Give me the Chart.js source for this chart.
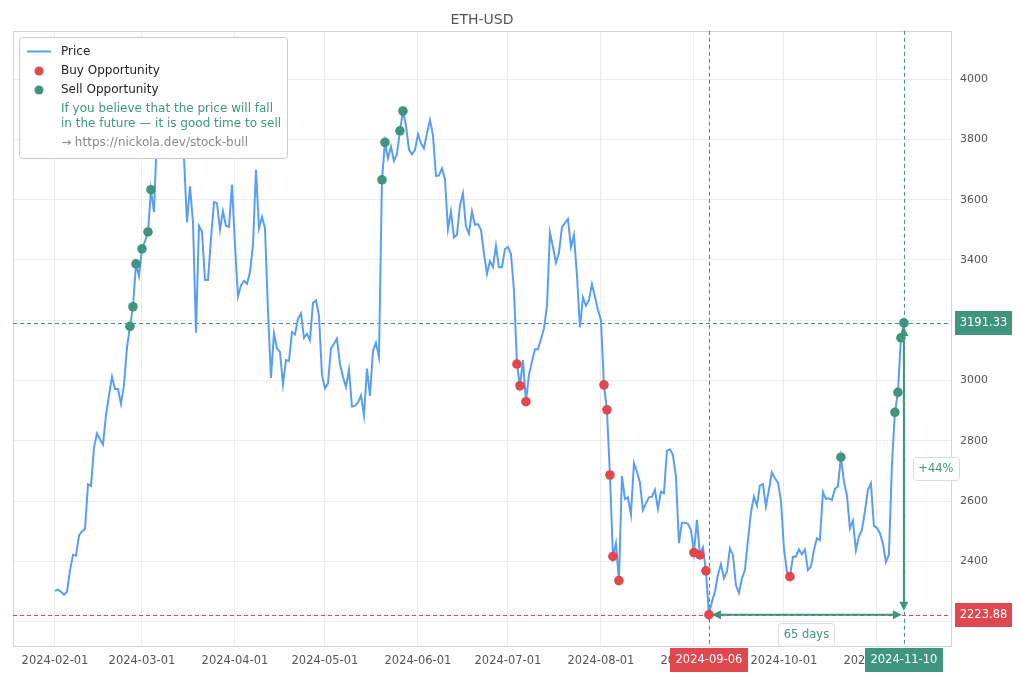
<!DOCTYPE html>
<html>
<head>
<meta charset="utf-8">
<script src="https://cdn.jsdelivr.net/npm/chart.js@4"></script>
<style>
  html, body { margin: 0; padding: 0; background: #fff; }
  #wrap { width: 1020px; height: 680px; }
</style>
</head>
<body>
<div id="wrap"><canvas id="chart" width="1020" height="680"></canvas></div>
<script>
// daily closes, day 0 = 2024-02-01
const priceValues = [
  2303, 2307, 2300, 2290, 2300, 2371, 2422, 2420, 2487, 2500,
  2508, 2656, 2651, 2778, 2825, 2805, 2788, 2886, 2950, 3013,
  2972, 2972, 2923, 2985, 3110, 3180, 3245, 3387, 3347, 3437,
  3462, 3493, 3633, 3559, 3820, 3870, 3890, 3920, 3880, 4065,
  3980, 4000, 3880, 3740, 3525, 3644, 3525, 3159, 3513, 3494,
  3334, 3334, 3470, 3592, 3589, 3500, 3562, 3513, 3510, 3650,
  3450, 3279, 3316, 3331, 3321, 3359, 3451, 3699, 3506, 3543,
  3506, 3230, 3009, 3157, 3107, 3095, 2988, 3068, 3065, 3161,
  3153, 3205, 3223, 3142, 3155, 3134, 3258, 3266, 3216, 3018,
  2974, 2991, 3106, 3122, 3139, 3054, 3013, 2979, 3037, 2914,
  2916, 2927, 2951, 2885, 3040, 2949, 3098, 3126, 3078, 3666,
  3790, 3737, 3776, 3728, 3752, 3828, 3894, 3847, 3767, 3750,
  3765, 3817, 3787, 3770, 3820, 3864, 3814, 3679, 3680, 3704,
  3668, 3502, 3561, 3475, 3484, 3580, 3621, 3511, 3487, 3561,
  3517, 3519, 3500, 3423, 3354, 3396, 3376, 3447, 3376, 3376,
  3436, 3443, 3420, 3300, 3055, 2983, 3068, 2930, 3019, 3063,
  3104, 3104, 3137, 3173, 3245, 3491, 3444, 3391, 3424, 3508,
  3522, 3536, 3442, 3483, 3350, 3177, 3276, 3249, 3267, 3320,
  3278, 3234, 3201, 2986, 2903, 2687, 2417, 2461, 2337, 2684,
  2607, 2613, 2555, 2726, 2698, 2662, 2571, 2593, 2613, 2615,
  2638, 2575, 2632, 2626, 2768, 2772, 2754, 2682, 2461, 2529,
  2529, 2525, 2505, 2430, 2538, 2422, 2447, 2369, 2223.88, 2267,
  2300, 2356, 2391, 2345, 2367, 2444, 2422, 2322, 2296, 2344,
  2372, 2471, 2562, 2616, 2586, 2652, 2657, 2582, 2638, 2696,
  2676, 2662, 2604, 2444, 2366, 2350, 2416, 2416, 2440, 2424,
  2440, 2372, 2383, 2438, 2477, 2471, 2630, 2608, 2610, 2604,
  2641, 2649, 2746, 2665, 2621, 2510, 2536, 2438, 2483, 2505,
  2566, 2638, 2660, 2518, 2512, 2494, 2460, 2399, 2422, 2720,
  2895, 2961, 3142, 3191.33
];

const buyDays = [154, 155, 157, 183, 184, 185, 186, 188, 213, 215, 217, 218, 245];
const sellDays = [25, 26, 27, 29, 31, 32, 109, 110, 115, 116, 262, 280, 281, 282, 283];

const monthTickDays = [0, 29, 60, 90, 121, 151, 182, 213, 243, 274];
const monthTickLabels = ['2024-02-01', '2024-03-01', '2024-04-01', '2024-05-01', '2024-06-01',
  '2024-07-01', '2024-08-01', '2024-09-01', '2024-10-01', '2024-11-01'];
const yTickValues = [2200, 2400, 2600, 2800, 3000, 3200, 3400, 3600, 3800, 4000];

const buyPoint = { day: 218, date: '2024-09-06', price: 2223.88 };
const sellPoint = { day: 283, date: '2024-11-10', price: 3191.33 };

const BLUE = '#5a9ef2';
const RED = '#e0474e';
const GREEN = '#3f967c';
const FONT = '"DejaVu Sans", sans-serif';

function boxPath(ctx, x, y, w, h, r) {
  ctx.beginPath();
  ctx.moveTo(x + r, y);
  ctx.lineTo(x + w - r, y);
  ctx.arcTo(x + w, y, x + w, y + r, r);
  ctx.lineTo(x + w, y + h - r);
  ctx.arcTo(x + w, y + h, x + w - r, y + h, r);
  ctx.lineTo(x + r, y + h);
  ctx.arcTo(x, y + h, x, y + h - r, r);
  ctx.lineTo(x, y + r);
  ctx.arcTo(x, y, x + r, y, r);
  ctx.closePath();
}

function tagBox(ctx, cx, cy, w, h, bg, text, size) {
  ctx.fillStyle = bg;
  ctx.fillRect(Math.round(cx - w / 2), Math.round(cy - h / 2), w, h);
  ctx.fillStyle = '#fff';
  ctx.font = size + 'px ' + FONT;
  ctx.textAlign = 'center';
  ctx.textBaseline = 'middle';
  ctx.fillText(text, cx, cy + 0.5);
}

function noteBox(ctx, cx, cy, w, h, text) {
  boxPath(ctx, Math.round(cx - w / 2) + 0.5, Math.round(cy - h / 2) + 0.5, w, h, 3);
  ctx.fillStyle = '#fff';
  ctx.fill();
  ctx.strokeStyle = '#dcdcdc';
  ctx.lineWidth = 1;
  ctx.stroke();
  ctx.fillStyle = GREEN;
  ctx.font = '11.5px ' + FONT;
  ctx.textAlign = 'center';
  ctx.textBaseline = 'middle';
  ctx.fillText(text, cx, cy + 0.5);
}

function arrowHead(ctx, x, y, dir) {
  // tip at (x,y)
  const L = 9, W = 4.5;
  ctx.beginPath();
  ctx.moveTo(x, y);
  if (dir === 'up') { ctx.lineTo(x - W, y + L); ctx.lineTo(x + W, y + L); }
  if (dir === 'down') { ctx.lineTo(x - W, y - L); ctx.lineTo(x + W, y - L); }
  if (dir === 'left') { ctx.lineTo(x + L, y - W); ctx.lineTo(x + L, y + W); }
  if (dir === 'right') { ctx.lineTo(x - L, y - W); ctx.lineTo(x - L, y + W); }
  ctx.closePath();
  ctx.fill();
}

const overlay = {
  id: 'overlay',
  beforeDatasetsDraw(chart) {
    const { ctx, chartArea: a, scales: { x, y } } = chart;
    ctx.save();
    ctx.strokeStyle = '#d4d4d4';
    ctx.lineWidth = 1;
    ctx.strokeRect(Math.round(a.left) + 0.5, Math.round(a.top) + 0.5,
      Math.round(a.right - a.left), Math.round(a.bottom - a.top));

    ctx.setLineDash([4, 3]);
    const ySell = Math.round(y.getPixelForValue(sellPoint.price)) + 0.5;
    const yBuy = Math.round(y.getPixelForValue(buyPoint.price)) + 0.5;
    const xBuy = Math.round(x.getPixelForValue(buyPoint.day)) + 0.5;
    const xSell = Math.round(x.getPixelForValue(sellPoint.day)) + 0.5;
    ctx.strokeStyle = GREEN;
    ctx.beginPath(); ctx.moveTo(a.left, ySell); ctx.lineTo(a.right, ySell); ctx.stroke();
    ctx.beginPath(); ctx.moveTo(xSell, a.top); ctx.lineTo(xSell, a.bottom); ctx.stroke();
    ctx.strokeStyle = RED;
    ctx.beginPath(); ctx.moveTo(a.left, yBuy); ctx.lineTo(a.right, yBuy); ctx.stroke();
    ctx.beginPath(); ctx.moveTo(xBuy, a.top); ctx.lineTo(xBuy, a.bottom); ctx.stroke();
    ctx.restore();
  },
  afterDatasetsDraw(chart) {
    const { ctx, chartArea: a, scales: { x, y } } = chart;
    const ySell = y.getPixelForValue(sellPoint.price);
    const yBuy = y.getPixelForValue(buyPoint.price);
    const xBuy = x.getPixelForValue(buyPoint.day);
    const xSell = x.getPixelForValue(sellPoint.day);
    ctx.save();
    ctx.strokeStyle = GREEN;
    ctx.fillStyle = GREEN;
    ctx.lineWidth = 2;
    // vertical arrow
    ctx.beginPath(); ctx.moveTo(xSell, ySell + 6); ctx.lineTo(xSell, yBuy - 6); ctx.stroke();
    arrowHead(ctx, xSell, ySell + 4, 'up');
    arrowHead(ctx, xSell, yBuy - 4, 'down');
    // horizontal arrow
    ctx.beginPath(); ctx.moveTo(xBuy + 6, yBuy); ctx.lineTo(xSell - 6, yBuy); ctx.stroke();
    arrowHead(ctx, xBuy + 3, yBuy, 'left');
    arrowHead(ctx, xSell - 2, yBuy, 'right');

    const pct = Math.round((sellPoint.price - buyPoint.price) / buyPoint.price * 100);
    noteBox(ctx, xSell + 32, (ySell + yBuy) / 2, 46, 23, '+' + pct + '%');
    noteBox(ctx, (xBuy + xSell) / 2, yBuy + 20, 56, 23, (sellPoint.day - buyPoint.day) + ' days');

    // axis tags
    tagBox(ctx, a.right + 4 + 28.5, ySell, 57, 24, GREEN, sellPoint.price.toFixed(2), 11.5);
    tagBox(ctx, a.right + 4 + 28.5, yBuy, 57, 24, RED, buyPoint.price.toFixed(2), 11.5);
    tagBox(ctx, xBuy, a.bottom + 14, 78, 24, RED, buyPoint.date, 11.5);
    tagBox(ctx, xSell, a.bottom + 14, 78, 24, GREEN, sellPoint.date, 11.5);
    ctx.restore();
  },
  afterDraw(chart) {
    const ctx = chart.ctx;
    ctx.save();
    boxPath(ctx, 19.5, 37.5, 268, 121, 3);
    ctx.fillStyle = '#ffffff';
    ctx.fill();
    ctx.strokeStyle = '#cccccc';
    ctx.lineWidth = 1;
    ctx.stroke();

    ctx.strokeStyle = BLUE;
    ctx.lineWidth = 2;
    ctx.beginPath(); ctx.moveTo(27, 51.5); ctx.lineTo(51, 51.5); ctx.stroke();
    ctx.fillStyle = RED;
    ctx.beginPath(); ctx.arc(39, 71, 4.5, 0, Math.PI * 2); ctx.fill();
    ctx.fillStyle = GREEN;
    ctx.beginPath(); ctx.arc(39, 90, 4.5, 0, Math.PI * 2); ctx.fill();

    ctx.font = '12px ' + FONT;
    ctx.textAlign = 'left';
    ctx.textBaseline = 'middle';
    ctx.fillStyle = '#222';
    ctx.fillText('Price', 61, 52);
    ctx.fillText('Buy Opportunity', 61, 70.5);
    ctx.fillText('Sell Opportunity', 61, 89.5);
    ctx.fillStyle = GREEN;
    ctx.fillText('If you believe that the price will fall', 61, 108.5);
    ctx.fillText('in the future \u2014 it is good time to sell', 61, 123.5);
    ctx.fillStyle = '#888';
    ctx.fillText('\u2192 https://nickola.dev/stock-bull', 61, 142.5);
    ctx.restore();
  }
};

const pricePoints = priceValues.map((v, i) => ({ x: i, y: v }));
const buyPoints = buyDays.map(d => ({ x: d, y: priceValues[d] }));
const sellPoints = sellDays.map(d => ({ x: d, y: priceValues[d] }));

new Chart(document.getElementById('chart'), {
  type: 'line',
  data: {
    datasets: [
      {
        label: 'Price',
        data: pricePoints,
        borderColor: BLUE,
        borderWidth: 2,
        pointRadius: 0,
        tension: 0,
        order: 2
      },
      {
        label: 'Buy Opportunity',
        data: buyPoints,
        showLine: false,
        pointRadius: 4.8,
        pointBackgroundColor: RED,
        pointBorderWidth: 0,
        order: 1
      },
      {
        label: 'Sell Opportunity',
        data: sellPoints,
        showLine: false,
        pointRadius: 4.8,
        pointBackgroundColor: GREEN,
        pointBorderWidth: 0,
        order: 1
      }
    ]
  },
  options: {
    responsive: false,
    animation: false,
    layout: { padding: { left: 13, right: 0, top: 4, bottom: 0 } },
    plugins: {
      legend: { display: false },
      tooltip: { enabled: false },
      title: {
        display: true,
        fullSize: false,
        text: 'ETH-USD',
        color: '#555',
        font: { family: FONT, size: 14, weight: 'normal' },
        padding: { top: 8, bottom: 2 }
      }
    },
    scales: {
      x: {
        type: 'linear',
        min: -14,
        max: 298.7,
        afterBuildTicks: s => { s.ticks = monthTickDays.map(v => ({ value: v })); },
        afterFit: s => { s.height = 34; },
        grid: { color: '#ececec', drawTicks: false },
        border: { display: false },
        ticks: {
          color: '#555',
          padding: 8,
          maxRotation: 0,
          autoSkip: false,
          font: { family: FONT, size: 11.5 },
          callback: v => monthTickLabels[monthTickDays.indexOf(v)]
        }
      },
      y: {
        position: 'right',
        min: 2120,
        max: 4160,
        afterBuildTicks: s => { s.ticks = yTickValues.map(v => ({ value: v })); },
        afterFit: s => { s.width = 69; },
        grid: { color: '#ececec', drawTicks: false },
        border: { display: false },
        ticks: {
          color: '#555',
          padding: 9,
          font: { family: FONT, size: 11 },
          callback: v => String(v)
        }
      }
    }
  },
  plugins: [overlay]
});
</script>
</body>
</html>
